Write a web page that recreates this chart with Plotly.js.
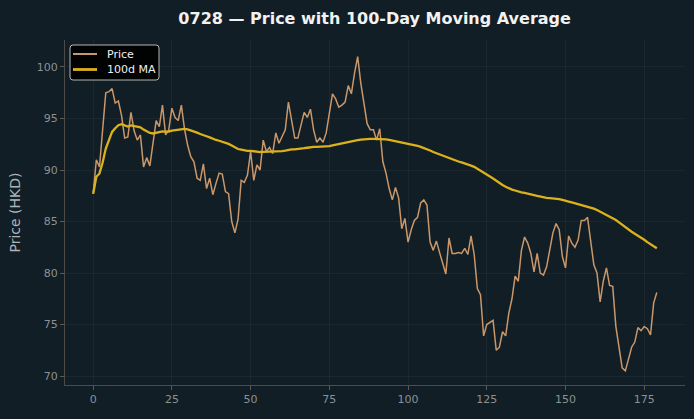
<!DOCTYPE html>
<html>
<head>
<meta charset="utf-8">
<script src="https://cdn.plot.ly/plotly-3.0.1.min.js"></script>
<style>
  html, body { margin: 0; padding: 0; background: #111e25; }
  #chart { width: 694px; height: 419px; }
</style>
</head>
<body>
<div id="chart"></div>
<script>
// Daily closing prices for 0728 (HKD), trading day index 0..179
const days = Array.from({length: 180}, (_, i) => i);
const price = [
  87.7, 91.0, 90.3, 93.9, 97.5, 97.6, 97.9, 96.5, 96.7, 95.3,
  93.1, 93.2, 95.6, 93.8, 92.9, 93.4, 90.3, 91.2, 90.4, 92.6,
  94.8, 94.2, 96.3, 93.4, 93.9, 96.0, 95.1, 94.8, 96.3, 94.0,
  92.4, 91.3, 90.8, 89.2, 89.0, 90.6, 88.2, 89.2, 87.6, 88.7,
  89.7, 89.6, 87.9, 87.7, 85.0, 83.9, 85.2, 89.0, 88.8, 89.5,
  91.8, 89.0, 90.5, 90.0, 92.9, 91.8, 92.2, 91.6, 93.6, 92.6,
  93.2, 93.9, 96.6, 95.0, 93.1, 93.1, 94.5, 95.6, 95.1, 95.9,
  93.9, 92.7, 93.1, 92.7, 93.6, 95.5, 97.4, 96.9, 96.1, 96.3,
  96.6, 98.2, 97.4, 99.4, 101.0, 98.4, 96.3, 94.5, 93.9, 93.9,
  92.9, 94.0, 90.8, 89.7, 88.2, 87.1, 88.3, 87.3, 84.3, 85.3,
  83.0, 84.2, 85.1, 85.4, 86.8, 87.1, 86.6, 83.0, 82.2, 83.1,
  82.0, 80.9, 79.9, 83.4, 81.9, 81.9, 82.0, 81.9, 82.4, 81.8,
  83.6, 81.8, 78.5, 77.9, 73.9, 75.0, 75.2, 75.4, 72.5, 72.8,
  74.3, 73.9, 76.1, 77.5, 79.7, 79.2, 82.2, 83.5, 82.9, 81.9,
  80.1, 81.9, 80.0, 79.8, 80.6, 82.2, 83.9, 84.8, 84.2, 81.6,
  80.5, 83.6, 82.9, 82.5, 83.2, 85.1, 85.1, 85.4, 83.0, 80.8,
  80.0, 77.2, 79.2, 80.5, 78.8, 78.7, 74.8, 72.8, 70.8, 70.5,
  71.8, 72.8, 73.3, 74.7, 74.4, 74.8, 74.6, 74.0, 77.1, 78.1
];
const maWindow = 100;
const xTicks = [0, 25, 50, 75, 100, 125, 150, 175];
const yTicks = [70, 75, 80, 85, 90, 95, 100];
const seriesNames = ['Price', '100d MA'];
const seriesColors = ['#c9976a', '#dcb21c'];
const seriesWidths = [1.5, 2.3];

// 100-day moving average (uses available history for the first days)
const ma = price.map((_, i) => {
  const start = Math.max(0, i - maWindow + 1);
  const slice = price.slice(start, i + 1);
  return slice.reduce((a, b) => a + b, 0) / slice.length;
});

const font = 'DejaVu Sans, Verdana, sans-serif';

const traces = [price, ma].map((vals, k) => ({
  x: days, y: vals, type: 'scatter', mode: 'lines', name: seriesNames[k],
  line: {color: seriesColors[k], width: seriesWidths[k]}
}));

// Compact legend box in the upper-left corner of the plot area (paper coords)
const W = 620, H = 345;                 // plot area size in px
const px = v => v / W, py = v => 1 - v / H;
const box = {x0: 5, x1: 94, y0: 5, y1: 40, r: 3};
const roundRect = (b) => {
  const X0 = px(b.x0), X1 = px(b.x1), Y0 = py(b.y0), Y1 = py(b.y1);
  const rx = px(b.r), ry = b.r / H;
  return `M ${X0 + rx},${Y0} L ${X1 - rx},${Y0} Q ${X1},${Y0} ${X1},${Y0 - ry} ` +
         `L ${X1},${Y1 + ry} Q ${X1},${Y1} ${X1 - rx},${Y1} L ${X0 + rx},${Y1} ` +
         `Q ${X0},${Y1} ${X0},${Y1 + ry} L ${X0},${Y0 - ry} Q ${X0},${Y0} ${X0 + rx},${Y0} Z`;
};
const legendRows = [14, 29.5];
const legendShapes = [{
  type: 'path', xref: 'paper', yref: 'paper', path: roundRect(box),
  fillcolor: 'rgba(0,0,0,0.93)', line: {color: '#b5b5b5', width: 1}, layer: 'above'
}].concat(legendRows.map((r, k) => ({
  type: 'line', xref: 'paper', yref: 'paper',
  x0: px(8), x1: px(32), y0: py(r), y1: py(r),
  line: {color: seriesColors[k], width: seriesWidths[k] + 0.5}, layer: 'above'
})));
const legendLabels = legendRows.map((r, k) => ({
  xref: 'paper', yref: 'paper', x: px(39.5), y: py(r),
  xanchor: 'left', yanchor: 'middle', showarrow: false,
  text: seriesNames[k], font: {family: font, size: 11, color: '#f0f0f0'}
}));

const axisCommon = {
  showline: true, linecolor: '#4d4a48', linewidth: 1,
  ticks: 'outside', ticklen: 4, tickcolor: '#5a5a5a', tickwidth: 1,
  showgrid: true, gridcolor: 'rgba(255,255,255,0.045)', gridwidth: 1,
  zeroline: false, mirror: false,
  tickfont: {family: font, size: 11, color: '#8b9196'}
};

const layout = {
  width: 694, height: 419,
  paper_bgcolor: '#111e25', plot_bgcolor: '#111e25',
  margin: {l: 65, r: 9, t: 40, b: 34},
  title: {
    text: '<b>0728 — Price with 100-Day Moving Average</b>',
    font: {family: font, size: 16, color: '#f2f2f2'},
    x: 0.5398, xanchor: 'center', y: 0.957, yanchor: 'middle'
  },
  xaxis: Object.assign({}, axisCommon, {
    range: [-8.95, 187.95], tickvals: xTicks, ticktext: xTicks.map(String)
  }),
  yaxis: Object.assign({}, axisCommon, {
    range: [69.13, 102.62], tickvals: yTicks, ticktext: yTicks.map(String),
    title: {text: 'Price (HKD)', font: {family: font, size: 14, color: '#aeb4b8'}, standoff: 12}
  }),
  showlegend: false,
  shapes: legendShapes,
  annotations: legendLabels
};

Plotly.newPlot('chart', traces, layout, {displayModeBar: false, staticPlot: true});
</script>
</body>
</html>
